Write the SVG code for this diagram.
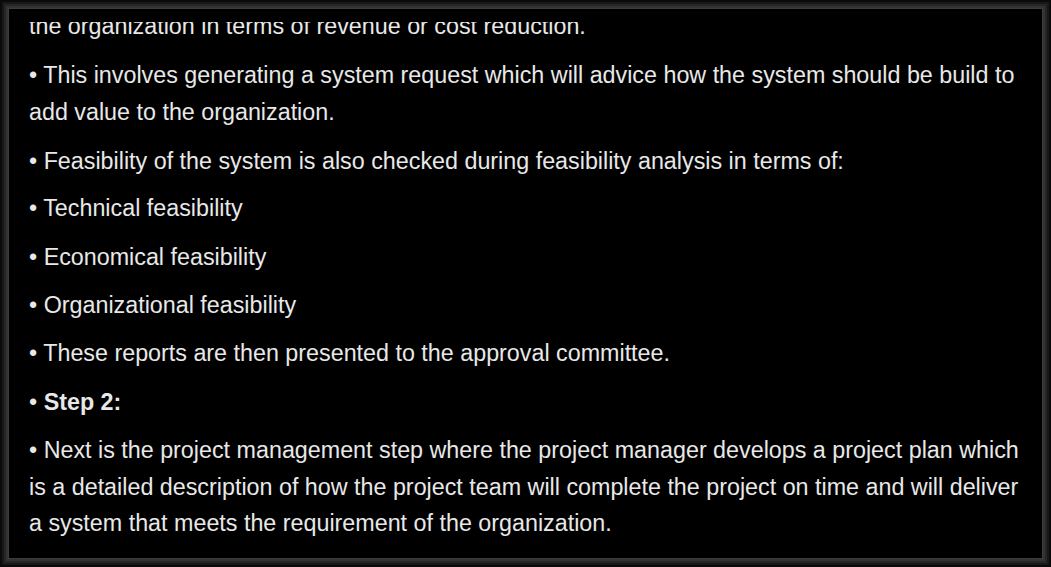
<svg xmlns="http://www.w3.org/2000/svg" width="1051" height="567" viewBox="0 0 1051 567">
<defs>
<style>
.t{font-family:"Liberation Sans",Arial,sans-serif;font-size:23.3px;fill:#e8e8e8;}
.b{font-weight:bold;}
</style>
<clipPath id="clip"><rect x="9" y="22" width="1033" height="537"/></clipPath>
</defs>
<g id="frame">
<rect x="0" y="0" width="1051" height="567" fill="#0a0a0a"/>
<rect x="2" y="2" width="1047" height="563" fill="#181818"/>
<rect x="4" y="4" width="1043" height="559" fill="#262626"/>
<rect x="6" y="6" width="1039" height="555" fill="#333333"/>
<rect x="8" y="8" width="1035" height="551" fill="#3c3c3c"/>
<rect x="9" y="9" width="1033" height="549" fill="#000000"/>
</g>
<g id="content" clip-path="url(#clip)">
<text class="t" x="29" y="34">the organization in terms of revenue or cost reduction.</text>
<text class="t" x="29" y="83">• This involves generating a system request which will advice how the system should be build to</text>
<text class="t" x="29" y="120">add value to the organization.</text>
<text class="t" x="29" y="169">• Feasibility of the system is also checked during feasibility analysis in terms of:</text>
<text class="t" x="29" y="216">• Technical feasibility</text>
<text class="t" x="29" y="265">• Economical feasibility</text>
<text class="t" x="29" y="313">• Organizational feasibility</text>
<text class="t" x="29" y="361">• These reports are then presented to the approval committee.</text>
<text class="t" x="29" y="410">• <tspan class="b">Step 2:</tspan></text>
<text class="t" x="29" y="458">• Next is the project management step where the project manager develops a project plan which</text>
<text class="t" x="29" y="495">is a detailed description of how the project team will complete the project on time and will deliver</text>
<text class="t" x="29" y="531">a system that meets the requirement of the organization.</text>
</g>
</svg>
